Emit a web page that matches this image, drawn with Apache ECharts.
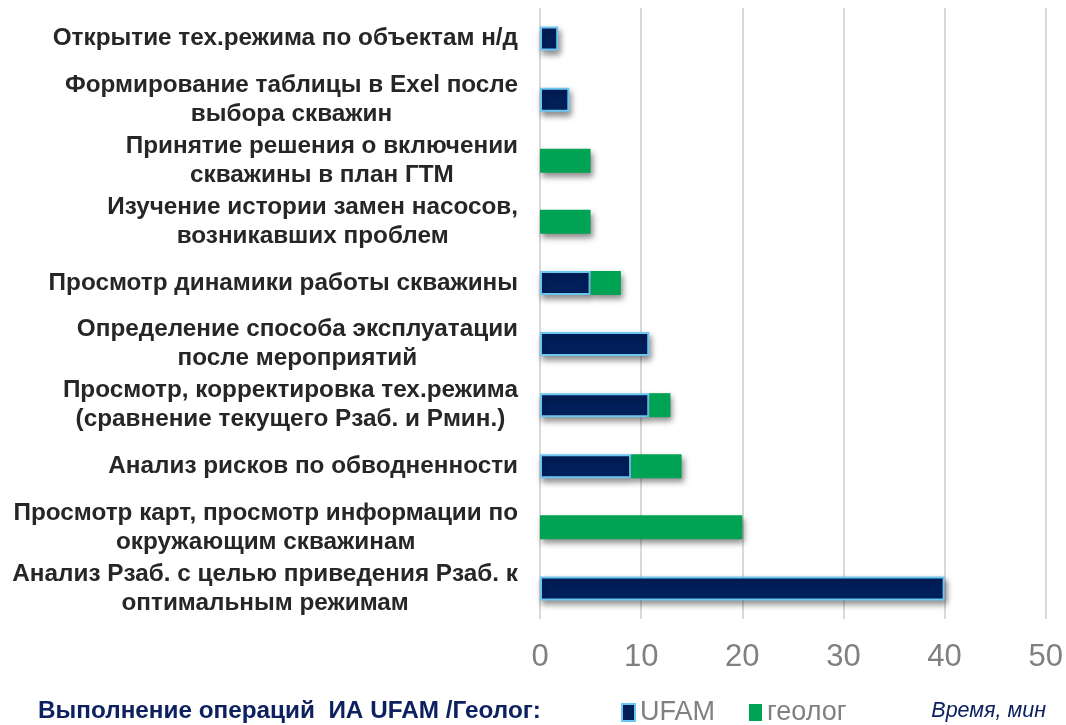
<!DOCTYPE html>
<html>
<head>
<meta charset="utf-8">
<script src="https://cdn.jsdelivr.net/npm/echarts@6/dist/echarts.min.js"></script>
<style>
  html, body {margin: 0; padding: 0; background: #fff;}
  #chart {width: 1066px; height: 725px;}
</style>
</head>
<body>
<div id="chart"></div>
<script>
// operations, top to bottom
const categories = [
  "Открытие тех.режима по объектам н/д",
  "Формирование таблицы в Exel после\nвыбора скважин",
  "Принятие решения о включении\nскважины в план ГТМ",
  "Изучение истории замен насосов,\nвозникавших проблем",
  "Просмотр динамики работы скважины",
  "Определение способа эксплуатации\nпосле мероприятий",
  "Просмотр, корректировка тех.режима\n(сравнение текущего Рзаб. и Рмин.)",
  "Анализ рисков по обводненности",
  "Просмотр карт, просмотр информации по\nокружающим скважинам",
  "Анализ Рзаб. с целью приведения Рзаб. к\nоптимальным режимам",
];
// minutes
const ufam = [1.8, 2.9, null, null, 5, 10.8, 10.8, 9, null, 40];
const geolog = [null, null, 5, 5, 3, null, 2.1, 5, 20, null];
const xTicks = [0, 10, 20, 30, 40, 50];

const NAVY = "#001f5b";
const GREEN = "#00a254";
const FONT = "Liberation Sans, Arial";
const shadow = {shadowBlur: 6, shadowOffsetX: 2, shadowOffsetY: 4, shadowColor: "rgba(0,0,0,0.45)"};

const chart = echarts.init(document.getElementById("chart"));
chart.setOption({
  animation: false,
  grid: {left: 540, right: 20, top: 8, bottom: 106},
  legend: {
    left: 616, top: 694,
    itemWidth: 13, itemHeight: 17, itemGap: 34,
    textStyle: {fontFamily: FONT, fontSize: 27, color: "#808080"},
    data: [
      {name: "UFAM", icon: "rect", itemStyle: {color: NAVY, borderColor: "#6cc6f2", borderWidth: 2}},
      {name: "геолог", icon: "rect", itemStyle: {color: GREEN}},
    ],
  },
  xAxis: {
    type: "value", min: xTicks[0], max: xTicks[xTicks.length - 1], interval: 10,
    axisLine: {show: false}, axisTick: {show: false},
    splitLine: {lineStyle: {color: "#d9d9d9", width: 2}},
    axisLabel: {margin: 23, fontFamily: FONT, fontSize: 31, color: "#808080"},
  },
  yAxis: {
    type: "category", inverse: true, data: categories,
    axisLine: {show: false}, axisTick: {show: false},
    axisLabel: {
      margin: 22,
      formatter: (v) => v.split("\n").map(l => "{c|" + l + "}").join("\n"),
      rich: {
        c: {align: "center", fontFamily: FONT, fontWeight: "bold", fontSize: 24.3, lineHeight: 29, color: "#262626"},
      },
    },
  },
  series: [
    {
      name: "UFAM", type: "bar", stack: "t", barWidth: 24, data: ufam,
      itemStyle: Object.assign({color: NAVY, borderColor: "#6cc6f2", borderWidth: 2}, shadow),
    },
    {
      name: "геолог", type: "bar", stack: "t", barWidth: 24, data: geolog,
      itemStyle: Object.assign({color: GREEN}, shadow),
    },
  ],
  graphic: [
    {type: "text", left: 38, top: 699, style: {text: "Выполнение операций  ИА UFAM /Геолог:", fontFamily: FONT, fontWeight: "bold", fontSize: 24.3, fill: "#0d2160"}},
    {type: "text", right: 20, top: 700, style: {text: "Время, мин", fontFamily: FONT, fontStyle: "italic", fontSize: 21.5, fill: "#0d2160"}},
  ],
});
</script>
</body>
</html>
